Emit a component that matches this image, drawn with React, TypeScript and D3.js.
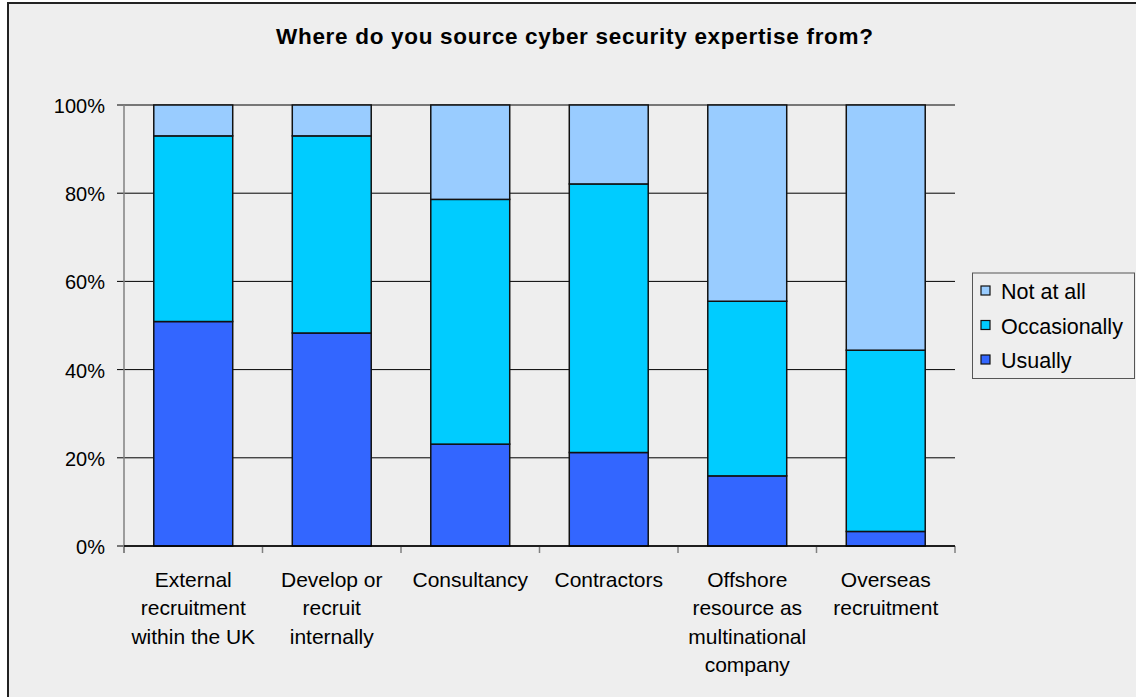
import React from "react";
import * as d3 from "d3";

const title = "Where do you source cyber security expertise from?";
const categories = [
  "External recruitment within the UK",
  "Develop or recruit internally",
  "Consultancy",
  "Contractors",
  "Offshore resource as multinational company",
  "Overseas recruitment",
];
const categoryLines = [
  ["External", "recruitment", "within the UK"],
  ["Develop or", "recruit", "internally"],
  ["Consultancy"],
  ["Contractors"],
  ["Offshore", "resource as", "multinational", "company"],
  ["Overseas", "recruitment"],
];
const usually = [50.9, 48.3, 23.1, 21.2, 15.9, 3.3];
const occasionally = [42.1, 44.7, 55.5, 60.9, 39.6, 41.1];
const notAtAll = [7.0, 7.0, 21.4, 17.9, 44.5, 55.6];
const seriesKeys = ["Usually", "Occasionally", "Not at all"];
const seriesColors = ["#3366FF", "#00CCFF", "#99CCFF"];
const yTicks = [0, 20, 40, 60, 80, 100];
const legendOrder = ["Not at all", "Occasionally", "Usually"];

const W = 1136;
const H = 697;
const FONT = "'Liberation Sans', Arial, sans-serif";

export default function App() {
  const rows = categories.map((c, i) => ({
    cat: c,
    Usually: usually[i],
    Occasionally: occasionally[i],
    "Not at all": notAtAll[i],
  }));
  const stack = d3.stack<any>().keys(seriesKeys)(rows);
  const x = d3
    .scaleBand<string>()
    .domain(categories)
    .range([124, 955])
    .paddingInner(0.43)
    .paddingOuter(0.215);
  const y = d3.scaleLinear().domain([0, 100]).range([546, 105]);
  const color = d3.scaleOrdinal<string, string>().domain(seriesKeys).range(seriesColors);
  const step = x.step();
  const x0 = 124;
  const x1 = 955;

  return (
    <div style={{ position: "absolute", left: 0, top: 0 }}>
      <svg width={W} height={H} style={{ display: "block" }}>
        <rect x={0} y={0} width={W} height={H} fill="#ffffff" />
        <rect x={8} y={3} width={W + 20} height={H + 20} fill="#eeeeee" stroke="#222" strokeWidth={2} />
        <text
          x={574.5}
          y={44}
          textAnchor="middle"
          fontFamily={FONT}
          fontWeight="bold"
          fontSize={22.5}
          textLength={597}
          lengthAdjust="spacing"
          fill="#000"
        >
          {title}
        </text>
        {yTicks.map((t) => (
          <line key={"g" + t} x1={117} x2={x1} y1={y(t)} y2={y(t)} stroke="#000" strokeWidth={1} />
        ))}
        {yTicks.map((t) => (
          <text
            key={"yt" + t}
            x={105}
            y={y(t) + 8}
            textAnchor="end"
            fontFamily={FONT}
            fontSize={20}
            fill="#000"
          >
            {t + "%"}
          </text>
        ))}
        <line x1={x0} x2={x0} y1={y(100)} y2={553} stroke="#808080" strokeWidth={1.5} />
        {d3.range(categories.length + 1).map((i) => (
          <line
            key={"xt" + i}
            x1={x0 + i * step}
            x2={x0 + i * step}
            y1={y(0)}
            y2={553}
            stroke="#808080"
            strokeWidth={1.5}
          />
        ))}
        {stack.map((s) =>
          s.map((d, i) => (
            <rect
              key={s.key + i}
              x={x(categories[i])}
              y={y(d[1])}
              width={x.bandwidth()}
              height={y(d[0]) - y(d[1])}
              fill={color(s.key)}
              stroke="#111"
              strokeWidth={1.5}
            />
          ))
        )}
        <line x1={x0} x2={x1} y1={y(0)} y2={y(0)} stroke="#000" strokeWidth={1.5} />
        {categories.map((c, i) => (
          <text
            key={"cl" + i}
            x={(x(c) as number) + x.bandwidth() / 2}
            y={587}
            textAnchor="middle"
            fontFamily={FONT}
            fontSize={21}
            fill="#000"
          >
            {categoryLines[i].map((ln, j) => (
              <tspan key={j} x={(x(c) as number) + x.bandwidth() / 2} dy={j === 0 ? 0 : 28.3}>
                {ln}
              </tspan>
            ))}
          </text>
        ))}
        <rect x={972.5} y={273} width={162} height={105.5} fill="#eeeeee" stroke="#555" strokeWidth={1} />
        {legendOrder.map((k, i) => (
          <g key={"lg" + k}>
            <rect
              x={981}
              y={286 + i * 34.5}
              width={9}
              height={9}
              fill={color(k)}
              stroke="#111"
              strokeWidth={1.2}
            />
            <text x={1001} y={299 + i * 34.5} fontFamily={FONT} fontSize={21.5} fill="#000">
              {k}
            </text>
          </g>
        ))}
      </svg>
    </div>
  );
}
